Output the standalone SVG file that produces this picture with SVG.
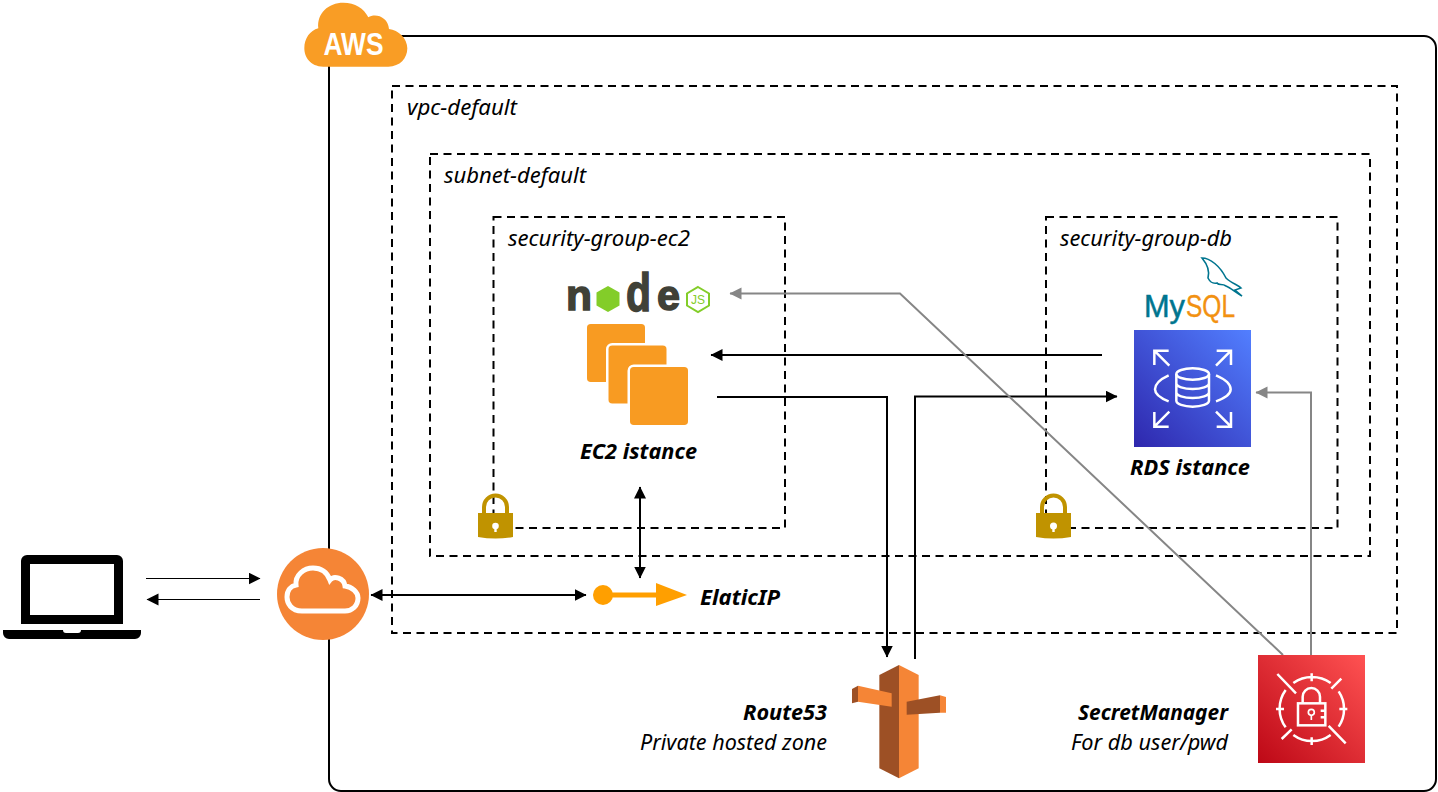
<svg xmlns="http://www.w3.org/2000/svg" width="1438" height="792" viewBox="0 0 1438 792">
<style>
text{font-family:"Noto Sans","Open Sans",sans-serif;font-style:italic;font-size:21.500px;fill:#000}
.b{font-weight:700}
.box{fill:none;stroke:#000;stroke-width:2;stroke-dasharray:8 5.5}
.c{fill:none;stroke:#000;stroke-width:2}
.thin{stroke-width:1.2}
.g{stroke:#868686}
.lock{fill:#C09300}
.ec2{fill:#F89B22;stroke:#fff;stroke-width:2.5}
.logo{font-family:"Liberation Sans",sans-serif;font-style:normal;font-weight:700;fill:#404137;stroke:#404137;stroke-width:1.500}
.ic{fill:none;stroke:#fff;stroke-width:7.500}
</style>
<defs>
<marker id="a" markerUnits="userSpaceOnUse" markerWidth="13" markerHeight="13" refX="11.5" refY="6" orient="auto-start-reverse"><path d="M0 0L12 6L0 12Z" fill="#000"/></marker>
<marker id="ag" markerUnits="userSpaceOnUse" markerWidth="13" markerHeight="13" refX="11.5" refY="6" orient="auto"><path d="M0 0L12 6L0 12Z" fill="#868686"/></marker>
<linearGradient id="rds" x1="0" y1="1" x2="1" y2="0"><stop offset="0" stop-color="#2E27AD"/><stop offset="1" stop-color="#527FFF"/></linearGradient>
<linearGradient id="sec" x1="0" y1="1" x2="1" y2="0"><stop offset="0" stop-color="#BD0816"/><stop offset="1" stop-color="#FF5252"/></linearGradient>
</defs>

<g id="aws-boundary"><rect x="329" y="36" width="1107" height="755" rx="12" fill="none" stroke="#000" stroke-width="2"/></g>
<g id="vpc-default"><rect class="box" x="392" y="86" width="1005" height="547"/><text x="407" y="115" textLength="110" lengthAdjust="spacingAndGlyphs">vpc-default</text></g>
<g id="subnet-default"><rect class="box" x="430" y="154" width="940" height="402"/><text x="444" y="183" textLength="142" lengthAdjust="spacingAndGlyphs">subnet-default</text></g>
<g id="security-group-ec2"><rect class="box" x="493.500" y="217" width="291.500" height="311"/><text x="508" y="246" textLength="182" lengthAdjust="spacingAndGlyphs">security-group-ec2</text></g>
<g id="security-group-db"><rect class="box" x="1046" y="217" width="291.500" height="311"/><text x="1060" y="246" textLength="172" lengthAdjust="spacingAndGlyphs">security-group-db</text></g>

<g id="connectors">
<path class="c thin" d="M146 578.500H260" marker-end="url(#a)"/>
<path class="c thin" d="M260 599.500H147" marker-end="url(#a)"/>
<path class="c" d="M371 595H586" marker-start="url(#a)" marker-end="url(#a)"/>
<path class="c" d="M640 487V578" marker-start="url(#a)" marker-end="url(#a)"/>
<path class="c" d="M717 397H887V657" marker-end="url(#a)"/>
<path class="c" d="M915 659V396.500H1117" marker-end="url(#a)"/>
<path class="c" d="M1102 355H711" marker-end="url(#a)"/>
<path class="c g" d="M1283 655L900 293.500H730" marker-end="url(#ag)"/>
<path class="c g" d="M1311 655V392.500H1256" marker-end="url(#ag)"/>
</g>

<g id="aws-logo"><path d="M100 200C60 200 43 170 43 145C43 115 60 92 85 85C80 40 115 8 160 8C195 8 222 25 235 52C255 38 295 50 297 87C325 90 352 115 352 145C352 175 330 200 295 200Z" transform="translate(290 0) scale(.3333)" fill="#F99D25"/><text x="323.500" y="55" textLength="60" lengthAdjust="spacingAndGlyphs" style="font-family:'Liberation Sans',sans-serif;font-style:normal;font-weight:700;font-size:32px;fill:#fff">AWS</text></g>

<g id="laptop">
<path d="M27 555H117a6 6 0 0 1 6 6V624H21V561a6 6 0 0 1 6-6ZM30 564V615H114V564Z" fill-rule="evenodd"/>
<path d="M3 630H63a3 3 0 0 0 3 3H78a3 3 0 0 0 3-3H141V633a6 6 0 0 1-6 6H9a6 6 0 0 1-6-6Z"/>
</g>

<g id="internet-gateway"><circle cx="323" cy="594" r="46" fill="#F58536"/>
<path d="M302 611C291 611 287 603 287 597C287 590 291 586 296 585C295 575 304 568 313 568C322 568 327 572 330 580C334 575 344 578 345 586C352 587 358 592 358 598C358 606 352 611 345 611Z" fill="none" stroke="#fff" stroke-width="5"/></g>

<g id="elastic-ip"><path d="M603 595H660" stroke="#FF9F00" stroke-width="5"/><circle cx="603" cy="595" r="10" fill="#FF9F00"/><path d="M656 583L687 595L656 606Z" fill="#FF9F00"/><text class="b" x="700" y="605" textLength="80" lengthAdjust="spacingAndGlyphs">ElaticIP</text></g>

<g id="nodejs">
<text class="logo" x="566" y="310" style="font-size:43px" textLength="26" lengthAdjust="spacingAndGlyphs">n</text>
<path d="M608 286L619.500 292.500V305.500L608 312L596.500 305.500V292.500Z" fill="#83CD29"/>
<text class="logo" x="626" y="311" style="font-size:54px" textLength="25" lengthAdjust="spacingAndGlyphs">d</text>
<text class="logo" x="657" y="310" style="font-size:43px" textLength="23" lengthAdjust="spacingAndGlyphs">e</text>
<path d="M698 287L709 293.500V305.500L698 312L687 305.500V293.500Z" fill="none" stroke="#83CD29" stroke-width="2"/>
<text x="691" y="304" textLength="14" lengthAdjust="spacingAndGlyphs" style="font-family:'Liberation Sans',sans-serif;font-style:normal;font-size:13px;fill:#83CD29">JS</text>
</g>

<g id="ec2">
<rect class="ec2" x="585.750" y="322.750" width="60.500" height="60.500" rx="5"/>
<rect class="ec2" x="607.250" y="344.250" width="60.500" height="60.500" rx="5"/>
<rect class="ec2" x="628.750" y="365.750" width="60.500" height="60.500" rx="5"/>
<text class="b" x="580" y="459" textLength="117" lengthAdjust="spacingAndGlyphs">EC2 istance</text>
</g>

<g id="lock-ec2"><path class="lock" d="M478 513H513V537Q495.500 540 478 537Z"/><path d="M484 514V507a11.500 11.500 0 0 1 23 0V514" fill="none" stroke="#C09300" stroke-width="4"/><circle cx="495.500" cy="526" r="3.300" fill="#fff"/><path d="M494.300 527H496.700V532H494.300Z" fill="#fff"/></g>
<g id="lock-db"><path class="lock" d="M1036 513H1071V537Q1053.500 540 1036 537Z"/><path d="M1042 514V507a11.500 11.500 0 0 1 23 0V514" fill="none" stroke="#C09300" stroke-width="4"/><circle cx="1053.500" cy="526" r="3.500" fill="#fff"/><path d="M1052.300 527H1054.700V532H1052.300Z" fill="#fff"/></g>

<g id="mysql">
<text x="1144" y="317" style="font-family:'Liberation Sans',sans-serif;font-style:normal;font-size:31px;fill:#00758F;stroke:#00758F;stroke-width:.5" textLength="41" lengthAdjust="spacingAndGlyphs">My</text>
<text x="1186" y="317" style="font-family:'Liberation Sans',sans-serif;font-style:normal;font-size:31px;fill:#F29111;stroke:#F29111;stroke-width:.4" textLength="49" lengthAdjust="spacingAndGlyphs">SQL</text>
<path d="M1202 258C1210 258 1220 266 1226 278C1231 283 1238 285 1241 288L1235 290L1242 296C1236 293 1231 288 1226 286C1222 283 1219 286 1217 283C1212 284 1210 282 1208 278C1210 271 1207 264 1202 258Z" fill="#fff" stroke="#00758F" stroke-width="1.600"/>
</g>

<g id="rds">
<rect x="1134" y="330" width="117" height="117" fill="url(#rds)"/>
<g transform="translate(1030 230) scale(.33333)">
<path class="ic" d="M373 405V362H416M373 362L418 407M603 405V362H560M603 362L558 407M373 546V590H416M373 590L418 545M603 546V590H560M603 590L558 545"/>
<path class="ic" d="M416 436C392 447 375 462 375 478C375 494 392 505 416 514M558 436C584 447 602 462 602 478C602 494 584 505 558 514"/>
<ellipse class="ic" cx="488" cy="432" rx="49" ry="17"/>
<path class="ic" d="M439 432V512C439 522 461 530 488 530C515 530 537 522 537 512V432M439 460C439 470 461 477 488 477C515 477 537 470 537 460M439 487C439 497 461 504 488 504C515 504 537 497 537 487"/>
</g>
<text class="b" x="1130" y="475" textLength="120" lengthAdjust="spacingAndGlyphs">RDS istance</text>
</g>

<g id="route53"><g transform="translate(830 650) scale(.33333)">
<path d="M148 75L207 45V385L148 355Z" fill="#9D5025"/><path d="M207 45L266 75V355L207 385Z" fill="#F58536"/>
<path d="M84 107L185 130V170L84 155Z" fill="#F58536"/><path d="M66 117L84 107V155L66 160Z" fill="#9D5025"/>
<path d="M230 155L330 136V188L230 194Z" fill="#9D5025"/><path d="M330 136L348 141V188L330 188Z" fill="#F58536"/>
</g>
<text class="b" x="827" y="720" text-anchor="end" textLength="84" lengthAdjust="spacingAndGlyphs">Route53</text>
<text x="827" y="750" text-anchor="end" textLength="187" lengthAdjust="spacingAndGlyphs">Private hosted zone</text></g>

<g id="secret-manager">
<rect x="1258" y="655" width="107" height="108" fill="url(#sec)"/>
<g transform="translate(1240 640) scale(.33333)">
<path class="ic" d="M112 102L168 160M304 116L274 146M155 268L125 297M266 258L317 310"/>
<path class="ic" d="M160 129A95 95 0 0 1 272 129M296 154A95 95 0 0 1 296 260M272 285A95 95 0 0 1 160 285M137 262A95 95 0 0 1 137 150M215 100V124M215 292V315M108 207H132M298 207H322"/>
<rect class="ic" x="174" y="190" width="82" height="66"/>
<path class="ic" d="M188 190V170a26 26 0 0 1 52 0V190M242 212H256M242 232H256"/>
<circle cx="214" cy="217" r="9" fill="none" stroke="#fff" stroke-width="5"/><path d="M214 226V240" stroke="#fff" stroke-width="5"/>
</g>
<text class="b" x="1228" y="720" text-anchor="end" textLength="150" lengthAdjust="spacingAndGlyphs">SecretManager</text>
<text x="1228" y="750" text-anchor="end" textLength="157" lengthAdjust="spacingAndGlyphs">For db user/pwd</text></g>
</svg>
